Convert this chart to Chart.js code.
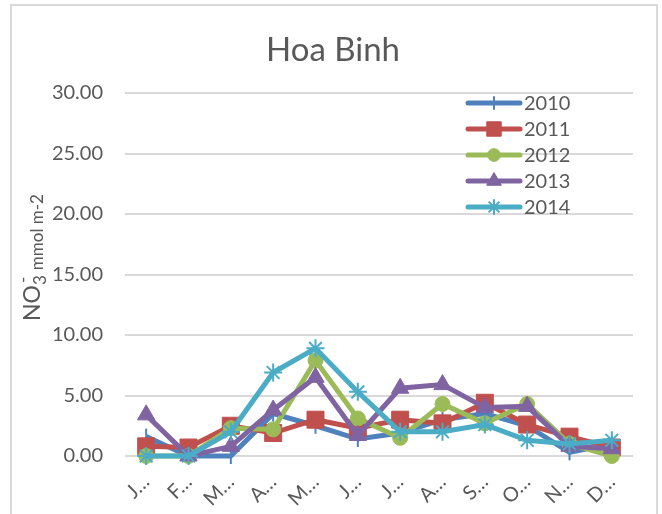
<!DOCTYPE html>
<html>
<head>
<meta charset="utf-8">
<script src="https://cdn.jsdelivr.net/npm/chart.js@4"></script>
<style>
    html, body { margin: 0; padding: 0; background: #ffffff; }
    #wrap { width: 662px; height: 514px; }
</style>
</head>
<body>
<div id="wrap"><canvas id="chart" width="662" height="514"></canvas></div>
<script>
// Hoa Binh - monthly NO3- deposition
const months = ['January', 'February', 'March', 'April', 'May', 'June',
    'July', 'August', 'September', 'October', 'November', 'December'];
const years = ['2010', '2011', '2012', '2013', '2014'];
const yTicks = [0, 5, 10, 15, 20, 25, 30];

const values2010 = [1.6, 0, 0, 3.5, 2.5, 1.4, 1.9, 3.0, 3.5, 2.5, 0.3, 1.0];
const values2011 = [0.8, 0.7, 2.5, 1.9, 3.0, 2.3, 3.0, 2.7, 4.4, 2.6, 1.6, 0.7];
const values2012 = [0, 0, 2.3, 2.2, 7.9, 3.1, 1.5, 4.3, 2.7, 4.3, 1.0, 0];
const values2013 = [3.4, 0, 0.8, 3.8, 6.5, 1.7, 5.6, 5.9, 4.0, 4.1, 0.8, 0.6];
const values2014 = [0, 0, 2.0, 6.9, 8.9, 5.3, 2.0, 2.0, 2.6, 1.3, 1.0, 1.3];

const seriesValues = [values2010, values2011, values2012, values2013, values2014];
const colors = ['#4f81bd', '#c0504d', '#9bbb59', '#8064a2', '#4bacc6'];
const markers = [
    { pointStyle: 'line', radius: 8, rotation: 90, borderWidth: 2 },
    { pointStyle: 'rect', radius: 12, rotation: 0, borderWidth: 1 },
    { pointStyle: 'circle', radius: 7.5, rotation: 0, borderWidth: 1 },
    { pointStyle: 'triangle', radius: 10, rotation: 0, borderWidth: 1 },
    { pointStyle: 'star', radius: 9, rotation: 0, borderWidth: 2 }
];

const textColor = '#595959';
const fontFamily = 'Lato, "Open Sans", sans-serif';

// border around the whole chart + title + axis title + legend
const decorations = {
    id: 'decorations',
    beforeDraw(chart) {
        const ctx = chart.ctx;
        ctx.save();
        ctx.strokeStyle = '#d9d9d9';
        ctx.lineWidth = 2;
        ctx.strokeRect(11, 5, 646, 530);
        ctx.restore();
    },
    afterDraw(chart) {
        const ctx = chart.ctx;
        ctx.save();
        ctx.fillStyle = textColor;

        // title
        ctx.font = `33px ${fontFamily}`;
        ctx.textAlign = 'center';
        ctx.textBaseline = 'middle';
        ctx.fillText('Hoa Binh', 333, 50);

        // y axis title: NO3- mmol m-2
        ctx.translate(40, 321);
        ctx.rotate(-Math.PI / 2);
        ctx.textAlign = 'left';
        ctx.textBaseline = 'alphabetic';
        ctx.font = `23px ${fontFamily}`;
        ctx.fillText('NO', 0, 0);
        let x = ctx.measureText('NO').width;
        ctx.font = `17px ${fontFamily}`;
        ctx.fillText('3', x, 6);
        ctx.fillText('-', x + 2, -11);
        x += ctx.measureText('3').width + 5;
        ctx.fillText('mmol m-2', x, 3);
        ctx.restore();

        // legend
        ctx.save();
        chart.data.datasets.forEach((ds, i) => {
            const y = 103 + i * 26;
            ctx.strokeStyle = ds.borderColor;
            ctx.lineWidth = 5;
            ctx.lineCap = 'round';
            ctx.beginPath();
            ctx.moveTo(468, y);
            ctx.lineTo(520, y);
            ctx.stroke();
            const m = markers[i];
            ctx.lineCap = 'butt';
            ctx.fillStyle = ds.borderColor;
            ctx.lineWidth = m.borderWidth;
            Chart.helpers.drawPoint(ctx, {
                pointStyle: m.pointStyle,
                radius: m.radius * 0.85,
                rotation: m.rotation,
                borderWidth: m.borderWidth
            }, 494, y);
            ctx.fillStyle = textColor;
            ctx.font = `20px ${fontFamily}`;
            ctx.textAlign = 'left';
            ctx.textBaseline = 'middle';
            ctx.fillText(ds.label, 524, y + 1);
        });
        ctx.restore();
    }
};

const datasets = years.map((year, i) => ({
    label: year,
    data: seriesValues[i],
    borderColor: colors[i],
    backgroundColor: colors[i],
    borderWidth: 5,
    tension: 0,
    pointStyle: markers[i].pointStyle,
    pointRadius: markers[i].radius,
    pointRotation: markers[i].rotation,
    pointBorderWidth: markers[i].borderWidth,
    pointBackgroundColor: colors[i],
    pointBorderColor: colors[i],
    clip: false,
    order: years.length - i
}));

new Chart(document.getElementById('chart'), {
    type: 'line',
    data: {
        labels: months,
        datasets: datasets
    },
    options: {
        responsive: false,
        animation: false,
        layout: {
            padding: { left: 12, top: 93, right: 29, bottom: 0 }
        },
        plugins: {
            legend: { display: false },
            title: { display: false },
            tooltip: { enabled: false }
        },
        scales: {
            x: {
                offset: true,
                grid: { display: false },
                border: { display: false },
                ticks: {
                    color: textColor,
                    font: { family: fontFamily, size: 20 },
                    minRotation: 45,
                    maxRotation: 45,
                    padding: 6,
                    autoSkip: false,
                    callback: function (value) {
                        return this.getLabelForValue(value).charAt(0) + '…';
                    }
                },
                afterFit(scale) {
                    scale.height = 58;
                }
            },
            y: {
                min: 0,
                max: 30,
                afterBuildTicks(scale) {
                    scale.ticks = yTicks.map(v => ({ value: v }));
                },
                grid: { color: '#d9d9d9', lineWidth: 2, drawTicks: false },
                border: { display: false },
                ticks: {
                    color: textColor,
                    font: { family: fontFamily, size: 20 },
                    padding: 22,
                    callback: (v) => v.toFixed(2)
                },
                afterFit(scale) {
                    scale.width = 113;
                }
            }
        }
    },
    plugins: [decorations]
});
</script>
</body>
</html>
